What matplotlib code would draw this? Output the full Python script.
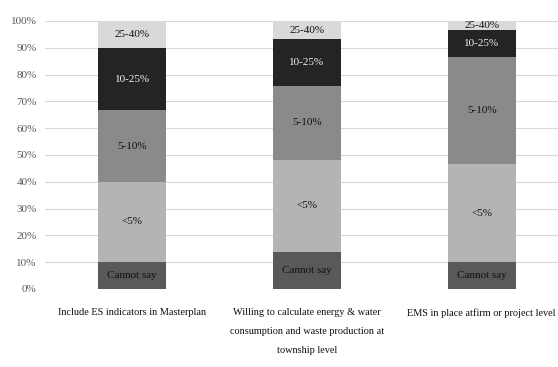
import matplotlib
matplotlib.use("Agg")
import matplotlib.pyplot as plt
import numpy as np

categories = ["Include ES indicators in Masterplan",
              "Willing to calculate energy & water\nconsumption and waste production at\ntownship level",
              "EMS in place atfirm or project level"]
series = ["Cannot say", "<5%", "5-10%", "10-25%", "25-40%"]
values = {
    "Cannot say": [10.0, 13.8, 10.0],
    "<5%":        [30.0, 34.5, 36.7],
    "5-10%":      [26.7, 27.6, 40.0],
    "10-25%":     [23.3, 17.2, 10.0],
    "25-40%":     [10.0, 6.9, 3.3],
}
colors = {"Cannot say": "#595959", "<5%": "#b4b4b4", "5-10%": "#8a8a8a",
          "10-25%": "#242424", "25-40%": "#d9d9d9"}
text_colors = {"Cannot say": "#111111", "<5%": "#111111", "5-10%": "#111111",
               "10-25%": "#f2f2f2", "25-40%": "#111111"}
yticks = np.arange(0, 101, 10)

plt.rcParams['font.family'] = ['Liberation Serif', 'DejaVu Serif']

fig = plt.figure(figsize=(5.58, 3.67), dpi=100)
ax = fig.add_axes([45/558, 78/367, 524/558, 268/367])

x = np.arange(len(categories))
bottom = np.zeros(len(categories))
for s in series:
    v = np.array(values[s])
    ax.bar(x, v, 0.39, bottom=bottom, color=colors[s], zorder=3)
    for xi, vi, bi in zip(x, v, bottom):
        ax.text(xi, bi + vi/2, s, ha='center', va='center', fontsize=8,
                color=text_colors[s], zorder=4, clip_on=True)
    bottom += v

ax.set_xlim(-0.5, 2.5)
ax.set_ylim(0, 100)
ax.set_yticks(yticks)
ax.set_yticklabels([f"{t}%" for t in yticks], fontsize=8, color='#595959')
ax.yaxis.grid(True, color='#d9d9d9', linewidth=0.8, zorder=0)
ax.tick_params(axis='y', length=0, pad=6)
ax.tick_params(axis='x', length=0, pad=14)
ax.set_xticks(x)
ax.set_xticklabels(categories, fontsize=7.4, color='#111111', linespacing=2.4)
for sp in ax.spines.values():
    sp.set_visible(False)

fig.savefig("out.png", dpi=100)
